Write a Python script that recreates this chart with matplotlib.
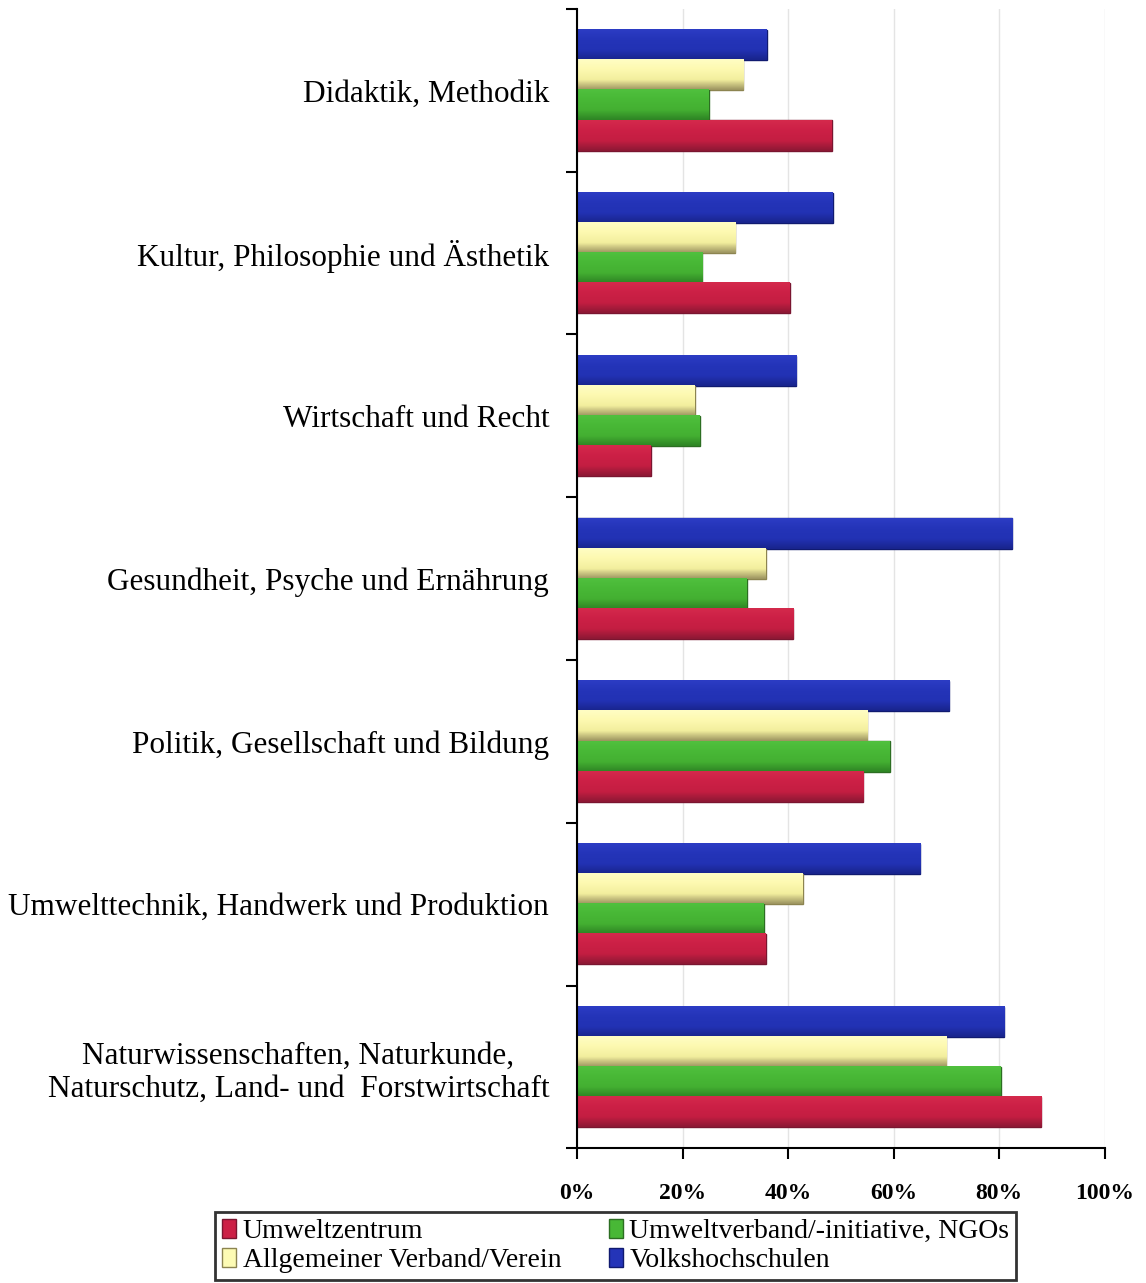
import numpy as np
import matplotlib.pyplot as plt
from matplotlib.colors import LinearSegmentedColormap

categories = [
    "Didaktik, Methodik",
    "Kultur, Philosophie und Ästhetik",
    "Wirtschaft und Recht",
    "Gesundheit, Psyche und Ernährung",
    "Politik, Gesellschaft und Bildung",
    "Umwelttechnik, Handwerk und Produktion",
    "Naturwissenschaften, Naturkunde,\nNaturschutz, Land- und  Forstwirtschaft",
]

# shares in percent, one list per type of provider
volkshochschulen = [36, 48.5, 41.5, 82.5, 70.5, 65, 81]
allgemeiner = [31.5, 30, 22.3, 35.8, 55, 42.8, 70]
umweltverband = [25, 23.7, 23.3, 32.2, 59.3, 35.4, 80.3]
umweltzentrum = [48.3, 40.3, 14, 41, 54.2, 35.8, 88]

# name, values, base colour, edge colour, shading top -> bottom
series = [
    ("Volkshochschulen", volkshochschulen, "#2434b8", "#101a70",
     ["#2c3cc4", "#2434b8", "#2232b4", "#18248c"]),
    ("Allgemeiner Verband/Verein", allgemeiner, "#fdfbb4", "#8c8450",
     ["#fffdc4", "#fdf9b0", "#f2ee9e", "#9c9460"]),
    ("Umweltverband/-initiative, NGOs", umweltverband, "#48b836", "#2c6e22",
     ["#50c03e", "#48b836", "#44b032", "#2e8424"]),
    ("Umweltzentrum", umweltzentrum, "#cc2046", "#7a1530",
     ["#d42a4c", "#cc2046", "#c41e42", "#8c1834"]),
]

plt.rcParams["font.family"] = ["Liberation Serif", "DejaVu Serif"]

fig = plt.figure(figsize=(11.46, 12.83), dpi=100)
ax = fig.add_axes([0.5035, 0.105, 0.4605, 0.888])

y = np.arange(len(categories))
h = 0.185
grad = np.linspace(0, 1, 64).reshape(-1, 1)
bars = {}
for i, (name, vals, col, edge, shade) in enumerate(series):
    off = (i - 1.5) * h
    bars[name] = ax.barh(y + off, vals, height=h, color=col, edgecolor=edge,
                         linewidth=1.0, zorder=3)
    cmap = LinearSegmentedColormap.from_list(name, shade)
    for yc, v in zip(y + off, vals):
        ax.imshow(grad, cmap=cmap, aspect="auto", zorder=4,
                  extent=(0, v, yc + h / 2, yc - h / 2), interpolation="bilinear")

ax.set_xlim(0, 100)
ax.set_ylim(len(categories) - 0.5, -0.5)

ax.set_xticks([0, 20, 40, 60, 80, 100])
ax.set_xticklabels(["0%", "20%", "40%", "60%", "80%", "100%"],
                   fontsize=17, fontweight="bold")
ax.tick_params(axis="x", direction="out", length=8, width=1.5, pad=17)
ax.grid(axis="x", color="#e4e4e4", linewidth=1, zorder=0)

ax.set_yticks(y)
ax.set_yticklabels(categories, fontsize=22.5)
for t in ax.get_yticklabels():
    t.set_multialignment("center")
ax.tick_params(axis="y", which="major", length=0, pad=20)
ax.set_yticks(np.arange(len(categories) + 1) - 0.5, minor=True)
ax.tick_params(axis="y", which="minor", direction="out", length=8, width=1.5)

for s in ["top", "right"]:
    ax.spines[s].set_visible(False)
for s in ["left", "bottom"]:
    ax.spines[s].set_linewidth(1.5)
    ax.spines[s].set_zorder(5)

order = ["Umweltzentrum", "Allgemeiner Verband/Verein",
         "Umweltverband/-initiative, NGOs", "Volkshochschulen"]
leg = fig.legend([bars[n] for n in order], order, ncol=2,
                 loc="upper left", bbox_to_anchor=(0.1876, 0.0555),
                 fontsize=20, frameon=True, fancybox=False,
                 edgecolor="black", handlelength=0.5, handleheight=0.7,
                 handletextpad=0.25, columnspacing=1.7, labelspacing=0.12,
                 borderpad=0.25, borderaxespad=0)
leg.get_frame().set_linewidth(2)

fig.savefig("out.png", dpi=100)
